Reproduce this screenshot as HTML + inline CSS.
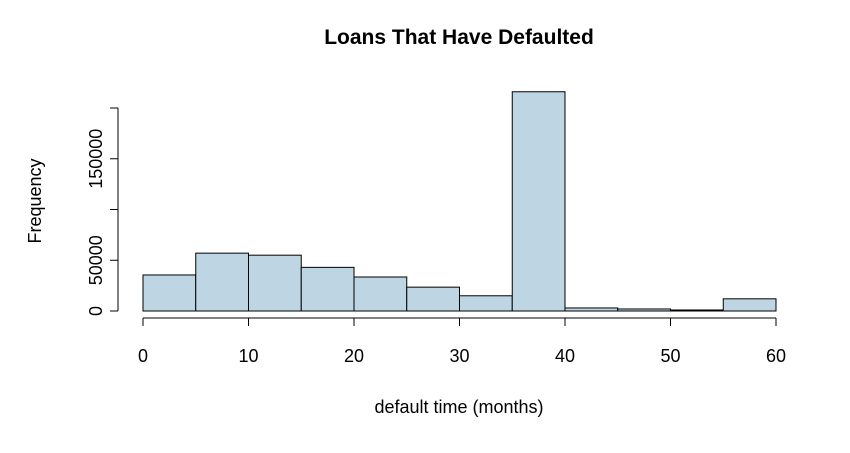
<!DOCTYPE html>
<html><head><meta charset="utf-8"><style>
body{margin:0;background:#fff}
svg text{font-family:"Liberation Sans",Arial,sans-serif;fill:#000}
</style></head><body>
<svg width="850" height="448" viewBox="0 0 850 448">
<text x="459" y="44" font-size="21" font-weight="bold" text-anchor="middle">Loans That Have Defaulted</text>
<text x="459" y="413" font-size="18" text-anchor="middle">default time (months)</text>
<text x="0" y="0" font-size="18" text-anchor="middle" transform="translate(41,201) rotate(-90)">Frequency</text>
<g id="bars"></g>
<g id="xaxis"></g>
<g id="yaxis"></g>
</svg>
<script>
const binStarts=[0,5,10,15,20,25,30,35,40,45,50,55];
const counts=[35500,57000,55000,43000,33500,23500,15000,216000,3000,2000,1000,12000];
const binWidth=5;
const xTicks=[0,10,20,30,40,50,60];
const yTicks=[0,50000,100000,150000,200000];
const yTickLabels=["0","50000","","150000",""];
const NS="http://www.w3.org/2000/svg";
function xs(v){return 143+v*(776-143)/60;}
function ys(v){return 311-v*(311-108)/200000;}
function mk(t,a,p){const e=document.createElementNS(NS,t);for(const k in a)e.setAttribute(k,a[k]);p.appendChild(e);return e;}
const bars=document.getElementById('bars');
binStarts.forEach((s,i)=>{
 const r=mk('rect',{x:xs(s),y:ys(counts[i]),width:xs(s+binWidth)-xs(s),height:ys(0)-ys(counts[i]),fill:'#bed6e4',stroke:'#000','stroke-width':1},bars);
 
 
});
const xa=document.getElementById('xaxis');
mk('line',{x1:xs(xTicks[0]),x2:xs(xTicks[xTicks.length-1]),y1:318,y2:318,stroke:'#000'},xa);
xTicks.forEach(t=>{
 mk('line',{x1:xs(t),x2:xs(t),y1:318,y2:326,stroke:'#000'},xa);
 const tx=mk('text',{x:xs(t),y:362,'font-size':18,'text-anchor':'middle'},xa);
 tx.textContent=t;
 
 
});
const ya=document.getElementById('yaxis');
mk('line',{x1:118,x2:118,y1:ys(yTicks[0]),y2:ys(yTicks[yTicks.length-1]),stroke:'#000'},ya);
yTicks.forEach((t,i)=>{
 mk('line',{x1:110,x2:118,y1:ys(t),y2:ys(t),stroke:'#000'},ya);
 const tx=mk('text',{x:0,y:0,'font-size':18,'text-anchor':'middle',transform:'translate(102,'+ys(t)+') rotate(-90)'},ya);
 tx.textContent=yTickLabels[i];
 
 
});
</script>
</body></html>
